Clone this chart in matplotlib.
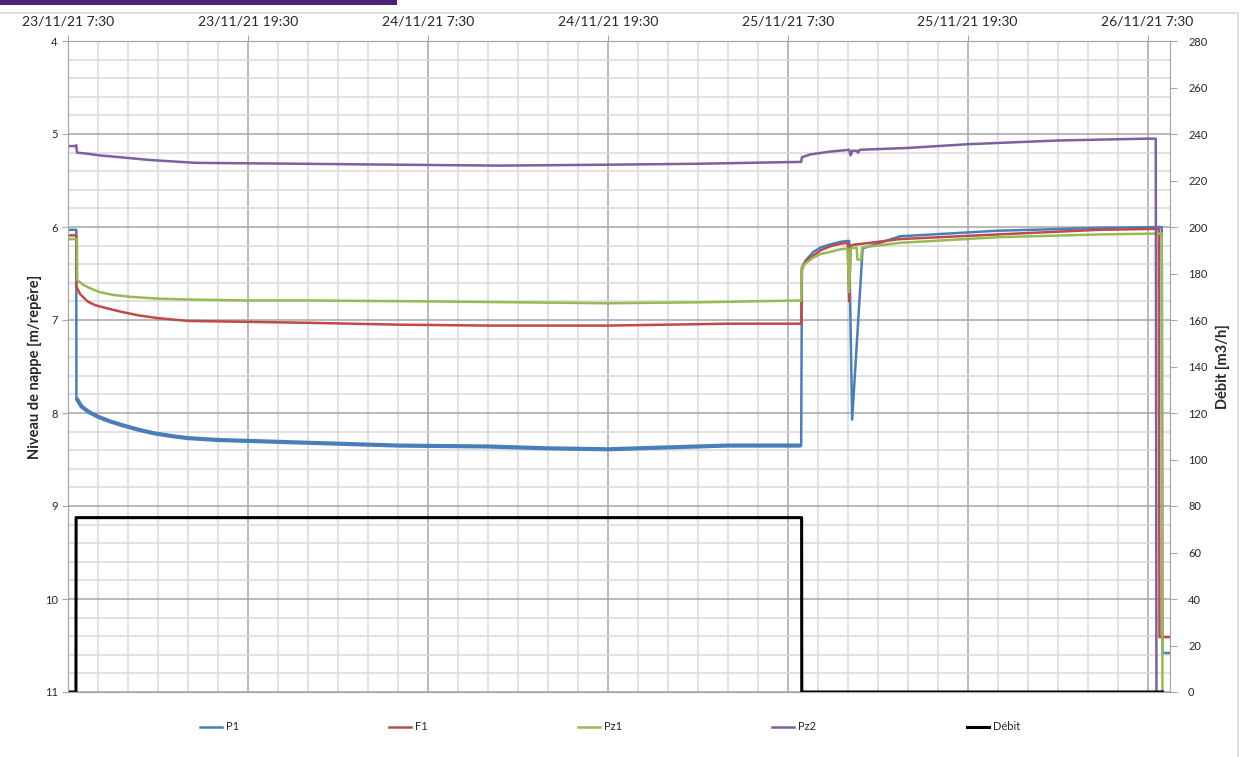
import matplotlib
matplotlib.use("Agg")
import matplotlib.pyplot as plt
from matplotlib.patches import Rectangle
from matplotlib.ticker import MultipleLocator

plt.rcParams['font.family'] = ['Lato', 'DejaVu Sans']

# Temps en heures depuis le 23/11/21 7:30
t_p1 = [0, 0.55, 0.56, 0.9, 1.4, 2, 2.8, 3.6, 4.7, 5.8, 7, 8, 10, 12, 16, 22, 28, 32, 36, 40, 44,
        48.9, 48.95, 49.2, 49.7, 50.2, 50.8, 51.5, 52.0, 52.1, 52.3, 53.0, 55.5, 62, 68.8, 72.95, 73.0, 73.5]
p1 = [6.03, 6.03, 7.84, 7.93, 7.99, 8.04, 8.09, 8.13, 8.18, 8.22, 8.25, 8.27, 8.29, 8.30, 8.32, 8.35,
      8.36, 8.38, 8.39, 8.37, 8.35,
      8.35, 6.46, 6.36, 6.27, 6.22, 6.19, 6.16, 6.15, 6.15, 8.07, 6.23, 6.10, 6.04, 6.01, 6.00, 10.58, 10.58]

t_f1 = [0, 0.55, 0.56, 0.8, 1.3, 1.8, 2.5, 3.5, 4.7, 6, 8, 10, 12, 16, 22, 28, 32, 36, 40, 44,
        48.9, 48.95, 49.2, 49.7, 50.2, 50.8, 51.5, 52.0, 52.1, 52.2, 52.4, 53.0, 55.5, 62, 68.8,
        72.75, 72.8, 73.5]
f1 = [6.09, 6.09, 6.64, 6.72, 6.80, 6.84, 6.87, 6.91, 6.95, 6.98, 7.01, 7.015, 7.02, 7.03, 7.05,
      7.06, 7.06, 7.06, 7.05, 7.04,
      7.04, 6.43, 6.37, 6.31, 6.25, 6.21, 6.18, 6.17, 6.80, 6.20, 6.19, 6.18, 6.13, 6.08, 6.03,
      6.02, 10.41, 10.41]

t_pz1 = [0, 0.6, 0.61, 1, 1.5, 2.1, 3, 4.1, 6, 8.1, 12, 16, 24, 30, 36, 42,
         48.9, 48.95, 49.2, 49.7, 50.2, 50.8, 51.5, 52.0, 52.1, 52.2, 52.6, 52.65, 52.9, 52.95,
         55.5, 62, 68.8, 72.95, 73.0, 73.5]
pz1 = [6.13, 6.13, 6.57, 6.62, 6.66, 6.70, 6.73, 6.75, 6.77, 6.78, 6.79, 6.79, 6.80, 6.81, 6.82, 6.81,
       6.79, 6.44, 6.39, 6.33, 6.29, 6.27, 6.24, 6.23, 6.70, 6.23, 6.22, 6.35, 6.35, 6.22,
       6.17, 6.11, 6.08, 6.07, 11.5, 11.5]

t_pz2 = [0, 0.5, 0.55, 0.6, 1.2, 2.1, 3.5, 5.5, 8.5, 15.5, 22, 28.8, 36, 42,
         48.9, 48.95, 49.5, 50.8, 52.1, 52.2, 52.3, 52.6, 52.7, 52.8, 56, 60, 66, 72.0, 72.55, 72.6, 73.5]
pz2 = [5.13, 5.13, 5.12, 5.20, 5.21, 5.23, 5.25, 5.28, 5.31, 5.32, 5.33, 5.34, 5.33, 5.32,
       5.30, 5.25, 5.22, 5.19, 5.17, 5.23, 5.18, 5.18, 5.20, 5.17, 5.15, 5.11, 5.07, 5.05, 5.05, 11.5, 11.5]

t_q = [0, 0.53, 0.54, 48.93, 48.94, 73.0]
debit = [0, 0, 75, 75, 0, 0]

tick_hours = [0, 12, 24, 36, 48, 60, 72]
tick_labels = ['23/11/21 7:30', '23/11/21 19:30', '24/11/21 7:30', '24/11/21 19:30',
               '25/11/21 7:30', '25/11/21 19:30', '26/11/21 7:30']

c_p1, c_f1, c_pz1, c_pz2 = '#4a7ebb', '#be4b48', '#98b954', '#7d60a0'
grey = '#a6a6a6'
txt = '#262626'

W, H = 1242, 757
fig = plt.figure(figsize=(W / 100, H / 100), dpi=100)

# bandeau et cadre
fig.add_artist(Rectangle((0, 1 - 5 / H), 397 / W, 5 / H, transform=fig.transFigure,
                         color='#4b2372', lw=0))
fig.add_artist(Rectangle((-0.01, -0.01), 1238 / W + 0.01, 1 - 13 / H + 0.01, transform=fig.transFigure,
                         fill=False, edgecolor='#d9d9d9', lw=1.2))

ax = fig.add_axes([68 / W, 1 - 692 / H, (1170 - 68) / W, (692 - 41) / H])
ax.plot(t_p1, p1, color=c_p1, lw=1.8, label='P1')
# bande bruitée pendant le pompage
i0, i1 = 2, 22
ax.plot(t_p1[i0:i1], p1[i0:i1], color=c_p1, lw=3.0, solid_capstyle='butt')
ax.plot(t_f1, f1, color=c_f1, lw=1.8, label='F1')
ax.plot(t_pz1, pz1, color=c_pz1, lw=1.8, label='Pz1')
ax.plot(t_pz2, pz2, color=c_pz2, lw=1.8, label='Pz2')

ax.set_xlim(0, 73.5)
ax.set_ylim(11, 4)
ax.xaxis.tick_top()
ax.set_xticks(tick_hours)
ax.set_xticklabels(tick_labels, fontsize=10, color=txt)
ax.xaxis.set_minor_locator(MultipleLocator(2))
ax.yaxis.set_major_locator(MultipleLocator(1))
ax.yaxis.set_minor_locator(MultipleLocator(0.2))
ax.tick_params(axis='x', which='major', length=4, pad=6, color=grey)
ax.tick_params(axis='y', which='major', length=4, labelsize=8, labelcolor=txt, color=grey)
ax.tick_params(which='minor', length=0)
ax.grid(which='major', color=grey, lw=1.1)
ax.grid(which='minor', color='#d9d9d9', lw=1.1)
ax.set_axisbelow(True)
for s in ax.spines.values():
    s.set_color(grey)
ax.set_ylabel('Niveau de nappe [m/repère]', fontsize=10.5, fontweight='bold', color=txt, labelpad=2)

ax2 = ax.twinx()
ax2.plot(t_q, debit, color='black', lw=2.2, label='Débit')
ax2.set_ylim(0, 280)
ax2.yaxis.set_major_locator(MultipleLocator(20))
ax2.tick_params(axis='y', length=5, labelsize=8, labelcolor=txt, color=grey, pad=8)
for s in ax2.spines.values():
    s.set_color(grey)
ax2.set_ylabel('Débit [m3/h]', fontsize=10.5, fontweight='bold', color=txt, labelpad=6)

# légende : une entrée par position
lines = ax.get_lines()
handles = [lines[0], lines[2], lines[3], lines[4], ax2.get_lines()[0]]
names = ['P1', 'F1', 'Pz1', 'Pz2', 'Débit']
xpos = [200, 389, 578, 772, 967]
for h, n, x in zip(handles, names, xpos):
    fig.legend([h], [n], loc='center left', bbox_to_anchor=(x / W, 1 - 727 / H),
               frameon=False, fontsize=8, handlelength=2.0, handletextpad=0.3,
               borderpad=0, borderaxespad=0, labelcolor=txt)

fig.savefig('out.png', dpi=100)
